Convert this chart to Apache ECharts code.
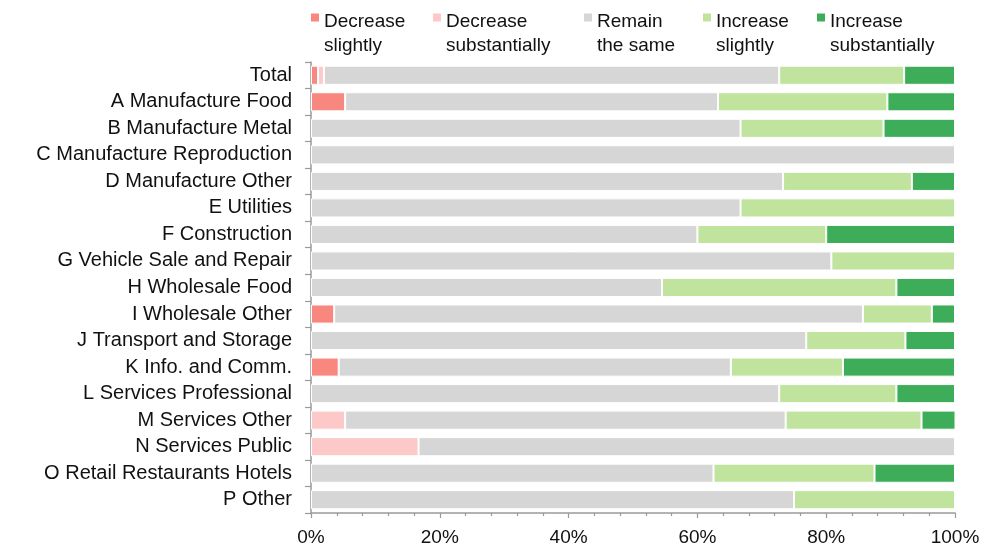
<!DOCTYPE html>
<html>
<head>
<meta charset="utf-8">
<script src="https://cdn.jsdelivr.net/npm/echarts@6/dist/echarts.min.js"></script>
<style>
html,body{margin:0;padding:0;background:#fff;}
#chart{width:1002px;height:547px;}
</style>
</head>
<body>
<div id="chart"></div>
<script>
const categories = [
  'Total', 'A Manufacture Food', 'B Manufacture Metal', 'C Manufacture Reproduction',
  'D Manufacture Other', 'E Utilities', 'F Construction', 'G Vehicle Sale and Repair',
  'H Wholesale Food', 'I Wholesale Other', 'J Transport and Storage', 'K Info. and Comm.',
  'L Services Professional', 'M Services Other', 'N Services Public',
  'O Retail Restaurants Hotels', 'P Other'
];
const seriesNames = ['Decrease\nslightly', 'Decrease\nsubstantially', 'Remain\nthe same', 'Increase\nslightly', 'Increase\nsubstantially'];
const decreaseSlightly      = [1.1, 5.3, 0, 0, 0, 0, 0, 0, 0, 3.6, 0, 4.3, 0, 0, 0, 0, 0];
const decreaseSubstantially = [0.9, 0, 0, 0, 0, 0, 0, 0, 0, 0, 0, 0, 0, 5.3, 16.7, 0, 0];
const remainSame            = [70.7, 57.9, 66.7, 100, 73.3, 66.7, 60, 80.8, 54.5, 82.1, 76.9, 60.9, 72.7, 68.4, 83.3, 62.5, 75];
const increaseSlightly      = [19.4, 26.3, 22.2, 0, 20.0, 33.3, 20, 19.2, 36.4, 10.7, 15.4, 17.4, 18.2, 21.1, 0, 25, 25];
const increaseSubstantially = [7.9, 10.5, 11.1, 0, 6.7, 0, 20, 0, 9.1, 3.6, 7.7, 17.4, 9.1, 5.3, 0, 12.5, 0];
const xTicks = [0, 20, 40, 60, 80, 100];

const seriesValues = [decreaseSlightly, decreaseSubstantially, remainSame, increaseSlightly, increaseSubstantially];
const colors = ['#F8877F', '#FCC8C8', '#D6D6D6', '#C0E39E', '#3DAD5A'];
const legendLeft = [311, 433, 584, 703, 817];
const FONT = '"Liberation Sans", Arial, sans-serif';
const TXT = '#111';
const AXIS = '#9a9a9a';

const chart = echarts.init(document.getElementById('chart'), null, {renderer: 'canvas'});

const legends = seriesNames.map((n, i) => ({
  data: [n],
  left: legendLeft[i],
  top: 10,
  padding: 0,
  orient: 'horizontal',
  itemWidth: 8,
  itemHeight: 41,
  icon: 'path://M0,0L8,0L8,8L0,8Z M0,41L8,41Z',
  itemStyle: {borderWidth: 0},
  selectedMode: false,
  textStyle: {fontSize: 19, lineHeight: 24, color: TXT, fontFamily: FONT, padding: [0,0,0,0]}
}));

chart.setOption({
  animation: false,
  color: colors,
  legend: legends,
  grid: {left: 311, right: 47, top: 62, bottom: 33.5, containLabel: false},
  xAxis: {
    type: 'value',
    min: xTicks[0],
    max: xTicks[xTicks.length - 1],
    interval: 20,
    splitLine: {show: false},
    axisLine: {show: true, lineStyle: {color: AXIS, width: 1.5}},
    axisTick: {show: true, length: 5, lineStyle: {color: AXIS, width: 1.2}},
    minorTick: {show: true, splitNumber: 5, length: 3, lineStyle: {color: AXIS, width: 1.2}},
    axisLabel: {formatter: '{value}%', fontSize: 19, color: TXT, fontFamily: FONT, margin: 15}
  },
  yAxis: {
    type: 'category',
    data: categories,
    inverse: true,
    axisLine: {show: true, lineStyle: {color: AXIS, width: 1.5}},
    axisTick: {show: true, length: 6, interval: 0, lineStyle: {color: AXIS, width: 1.2}},
    axisLabel: {fontSize: 20, color: TXT, fontFamily: FONT, margin: 19, interval: 0}
  },
  series: seriesNames.map((n, i) => ({
    name: n,
    type: 'bar',
    stack: 'total',
    barCategoryGap: '28%',
    itemStyle: {color: colors[i], borderColor: '#fff', borderWidth: 1},
    data: seriesValues[i].map(v => v === 0 ? '-' : v)
  }))
});
</script>
</body>
</html>
